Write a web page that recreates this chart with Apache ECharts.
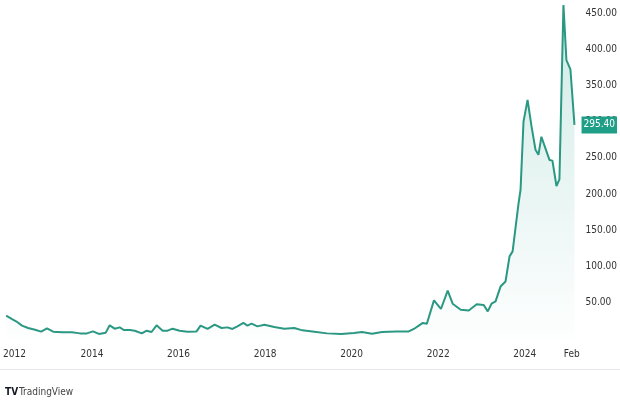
<!DOCTYPE html>
<html>
<head>
<meta charset="utf-8">
<script src="https://cdn.jsdelivr.net/npm/echarts@6/dist/echarts.min.js"></script>
<style>
html,body{margin:0;padding:0;background:#fff;}
#chart{width:620px;height:413px;}
</style>
</head>
<body>
<div id="chart"></div>
<script>
var dates = ['2012-01-07','2012-02-26','2012-03-31','2012-05-20','2012-07-10','2012-09-07','2012-10-28','2012-12-17',
'2013-02-07','2013-04-22','2013-07-15','2013-09-21','2013-11-19','2014-01-09','2014-02-28','2014-04-27','2014-05-30',
'2014-07-11','2014-08-23','2014-09-26','2014-11-16','2014-12-28','2015-02-25','2015-04-07','2015-05-18','2015-06-30',
'2015-08-20','2015-10-01','2015-11-12','2016-01-10','2016-03-17','2016-06-01','2016-07-05','2016-09-02','2016-11-01',
'2016-12-29','2017-02-18','2017-03-31','2017-05-12','2017-07-01','2017-08-05','2017-09-08','2017-10-28','2017-12-26',
'2018-03-19','2018-06-12','2018-09-04','2018-11-11','2019-02-20','2019-06-08','2019-10-04','2020-01-22','2020-03-29',
'2020-06-21','2020-09-14','2021-01-10','2021-04-28','2021-06-09','2021-07-21','2021-08-24','2021-09-27','2021-11-26',
'2022-01-24','2022-03-22','2022-05-03','2022-07-10','2022-09-16','2022-11-22','2023-01-20','2023-02-23','2023-03-27',
'2023-04-30','2023-06-11','2023-07-23','2023-08-26','2023-09-21','2023-11-10','2023-11-27','2023-12-22','2024-01-25',
'2024-02-28','2024-04-01','2024-04-26','2024-05-21','2024-06-24','2024-07-28','2024-08-22','2024-09-25','2024-10-20',
'2024-11-23','2024-12-18','2025-01-21','2025-02-24'];
var prices = [31.8,27,24,18,14.7,12.4,9.7,14.2,
9.7,8.7,8.7,7.3,7.3,10,6.5,8.3,18.4,
13.8,15.6,12,12,11,7.3,11,9.2,18.4,
11,11,13.8,11,9.7,10,18,13.4,19.3,
14.7,15.6,13.4,17,21.7,18,20.7,17,19.3,
16,13.8,14.7,11.5,9.7,7.3,6.5,7.8,9.2,
6.9,9.2,10,10,13.4,18,21.7,20.7,52.9,
41,66.3,48.3,40,39,47.5,46.5,37.7,48.3,
51.5,72,79,113.7,120.6,187,206,300,330,
293,261,254,279,263,247,246,211,220,
461,385,372,295.4];
var xTickDates = ['2012-01-01','2014-01-01','2016-01-01','2018-01-01','2020-01-01','2022-01-01','2024-01-01','2025-02-01'];
var yTicks = [50,100,150,200,250,300,350,400,450];
var lastPrice = 295.40;

function ts(d){ return Date.UTC(+d.slice(0,4), +d.slice(5,7)-1, +d.slice(8,10)); }
var lineColor = '#2a9882';
var seriesData = dates.map(function(d,i){ return [ts(d), prices[i]]; });
var xTickValues = xTickDates.map(ts);
var FONT = '"DejaVu Sans Condensed", "Liberation Sans Narrow", sans-serif';

var chart = echarts.init(document.getElementById('chart'), null, {renderer:'canvas'});
chart.setOption({
  animation:false,
  backgroundColor:'#ffffff',
  grid:{left:0,right:43,top:0,height:343,containLabel:false},
  xAxis:{
    type:'value',
    min:ts('2011-11-17'),
    max:ts('2025-03-05'),
    axisLine:{show:false},
    axisTick:{show:false},
    splitLine:{show:false},
    axisLabel:{
      customValues:xTickValues,
      margin:6,
      color:'#333',
      fontSize:10,
      fontFamily:FONT,
      formatter:function(v){
        var d = new Date(v);
        if (d.getUTCMonth() === 1) return 'Feb';
        var y = d.getUTCFullYear();
        if (y === 2012) return '{first|' + y + '}';
        return String(y);
      },
      rich:{first:{padding:[0,0,0,18],fontSize:10,color:'#333',fontFamily:FONT}}
    }
  },
  yAxis:{
    type:'value',
    position:'right',
    min:-6,
    max:468,
    axisLine:{show:false},
    axisTick:{show:false},
    splitLine:{show:false},
    axisLabel:{
      customValues:yTicks,
      margin:10,
      color:'#333',
      fontSize:10,
      fontFamily:FONT,
      formatter:function(v){ return v.toFixed(2); }
    }
  },
  series:[{
    type:'line',
    data:seriesData,
    showSymbol:false,
    lineStyle:{color:lineColor,width:2},
    itemStyle:{color:lineColor},
    areaStyle:{
      color:new echarts.graphic.LinearGradient(0,0,0,1,[
        {offset:0,color:'rgba(34,160,138,0.30)'},
        {offset:1,color:'rgba(34,160,138,0.01)'}
      ])
    },
    markLine:{
      silent:true,
      symbol:'none',
      lineStyle:{color:'rgba(0,0,0,0)',width:0},
      label:{
        show:true,
        position:'end',
        distance:6,
        formatter:function(){ return lastPrice.toFixed(2); },
        backgroundColor:'#1f9e88',
        color:'#fff',
        padding:[4,2,3,2],
        fontSize:10,
        fontFamily:FONT
      },
      data:[{yAxis:lastPrice}]
    }
  }],
  graphic:[
    {type:'rect',shape:{x:0,y:369,width:620,height:1},style:{fill:'#e6e8ee'}},
    {type:'text',left:5,top:387,style:{text:'TV',fontSize:10,fontWeight:'bold',fill:'#131722',fontFamily:FONT}},
    {type:'text',left:19,top:387,style:{text:'TradingView',fontSize:10,fill:'#444',fontFamily:FONT}}
  ]
});
</script>
</body>
</html>
